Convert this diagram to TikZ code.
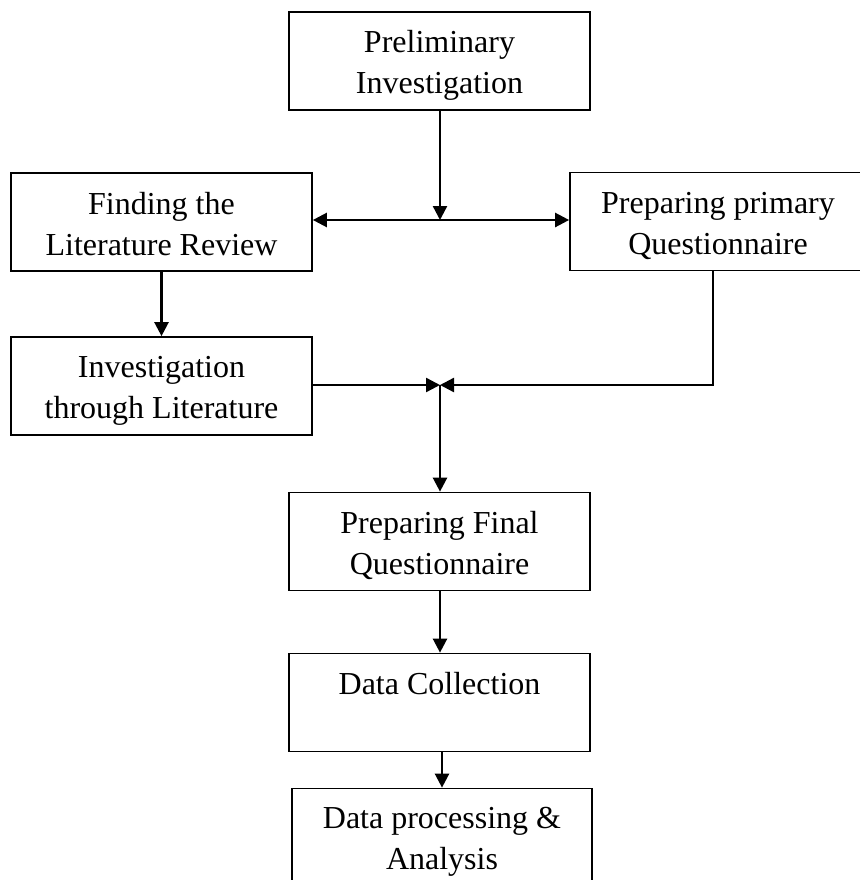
\documentclass[tikz,border=0pt]{standalone}
\usepackage{fontspec}
\setmainfont{Liberation Serif}
\usetikzlibrary{arrows.meta}
\newcommand\lnstrut{\rule[-5pt]{0pt}{35pt}}
\begin{document}
\begin{tikzpicture}[x=1pt,y=-1pt,
  box/.style={draw, line width=1.7pt, minimum width=301pt, minimum height=98pt, inner sep=0pt, align=center, font=\fontsize{32}{41}\selectfont},
  conn/.style={line width=2.4pt, -{Triangle[length=14pt,width=14pt]}},
  dconn/.style={line width=2.4pt, {Triangle[length=14pt,width=14pt]}-{Triangle[length=14pt,width=14pt]}},
  plain/.style={line width=2.4pt}]
\fill[white] (0,0) rectangle (859,880);
\useasboundingbox (0,0) rectangle (859,880);
\node[box] (b1) at (439.5,61) {\lnstrut Preliminary\\\lnstrut Investigation};
\node[box] (b2) at (161.5,222) {\lnstrut Finding the\\\lnstrut Literature Review};
\node[box, minimum width=296pt] (b3) at (718,221.5) {\lnstrut Preparing primary\\\lnstrut Questionnaire};
\node[box] (b4) at (161.5,386) {\lnstrut Investigation\\\lnstrut through Literature};
\node[box] (b5) at (439.5,541.5) {\lnstrut Preparing Final\\\lnstrut Questionnaire};
\node[box] (b6) at (439.5,702.5) {\lnstrut Data Collection\\\lnstrut};
\node[box, minimum width=300pt] (b7) at (442,837.5) {\lnstrut Data processing \&\\\lnstrut Analysis};
\coordinate (j1) at (440,220);
\coordinate (j2) at (440,385);
\coordinate (c3) at (713,385);
\draw[conn] (b1.south -| j1) -- (j1);
\draw[dconn] (b2.east |- j1) -- (b3.west |- j1);
\draw[conn] (b2.south) -- (b4.north);
\draw[plain] (b3.south -| c3) -- (c3) -- ([xshift=10pt]j2);
\draw[conn] (c3) -- (j2);
\draw[conn] (b4.east |- j2) -- (j2);
\draw[conn] (j2) -- (b5.north -| j2);
\draw[conn] (b5.south -| j2) -- (b6.north -| j2);
\draw[conn] (b6.south -| b7.north) -- (b7.north);
\end{tikzpicture}
\end{document}
